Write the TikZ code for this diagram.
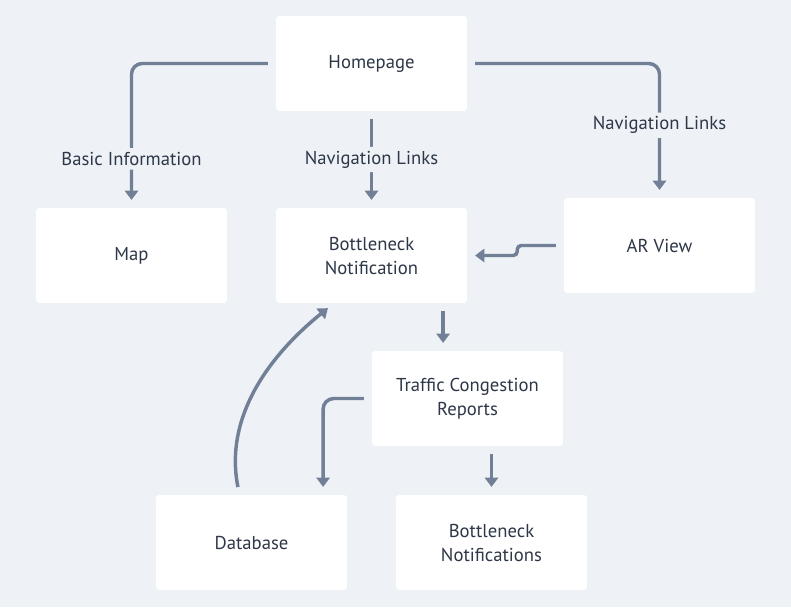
\documentclass[tikz,border=0pt]{standalone}
\usepackage{fontspec}
\setmainfont{PT Sans}
\usepackage{tikz}
\usepackage{xcolor}
\usetikzlibrary{shapes, positioning, arrows.meta}

\definecolor{bgcol}{HTML}{EEF2F6}
\definecolor{linkcol}{HTML}{718096}
\definecolor{textcol}{HTML}{2D3748}

\begin{document}
\begin{tikzpicture}[x=0.75pt, y=-0.75pt,
        box/.style={draw=none, fill=white, rounded corners=2pt, minimum width=143pt, minimum height=71pt, align=center, text=textcol, font=\fontsize{14}{18}\selectfont},
        link/.style={draw=linkcol, line width=2.6pt, -{Triangle[width=10pt, length=7pt]}, shorten <=6pt, shorten >=6pt, rounded corners=8pt},
        lbl/.style={fill=bgcol, text=textcol, inner sep=3pt, font=\fontsize{14}{18}\selectfont}]
        \fill[bgcol] (0,0) rectangle (791,607);
        \useasboundingbox (0,0) rectangle (791,607);

        \node[box] (home) at (371.5, 63.5) {Homepage};
        \node[box] (map) at (131.5, 255.5) {Map};
        \node[box] (bn) at (371.5, 255.5) {Bottleneck\\Notification};
        \node[box] (ar) at (659.5, 245.5) {AR View};
        \node[box] (traffic) at (467.5, 398.5) {Traffic Congestion\\Reports};
        \node[box] (db) at (251.5, 542.5) {Database};
        \node[box] (bns) at (491.5, 542.5) {Bottleneck\\Notifications};

        \draw[link] (home.west) -| node[lbl, pos=0.83] {Basic Information} (map.north);
        \draw[link] (home.south) -- node[lbl] {Navigation Links} (bn.north);
        \draw[link] (home.east) -| node[lbl, pos=0.73] {Navigation Links} (ar.north);
        \draw[link, rounded corners=3pt] (ar.west) -- ([xshift=-35pt]ar.west) |- (bn.east);
        \draw[link] ([xshift=-18pt]bn.south east) -- ([xshift=-18pt]bn.south east |- traffic.north);
        \draw[link] (traffic.west) -| ([xshift=-18pt]db.north east);
        \draw[link] (traffic.south -| bns.north) -- (bns.north);
        \draw[link] ([xshift=-9pt]db.north) .. controls +(-16,-80) and +(-62,50) .. ([xshift=-28pt]bn.south);
    \end{tikzpicture}
\end{document}
